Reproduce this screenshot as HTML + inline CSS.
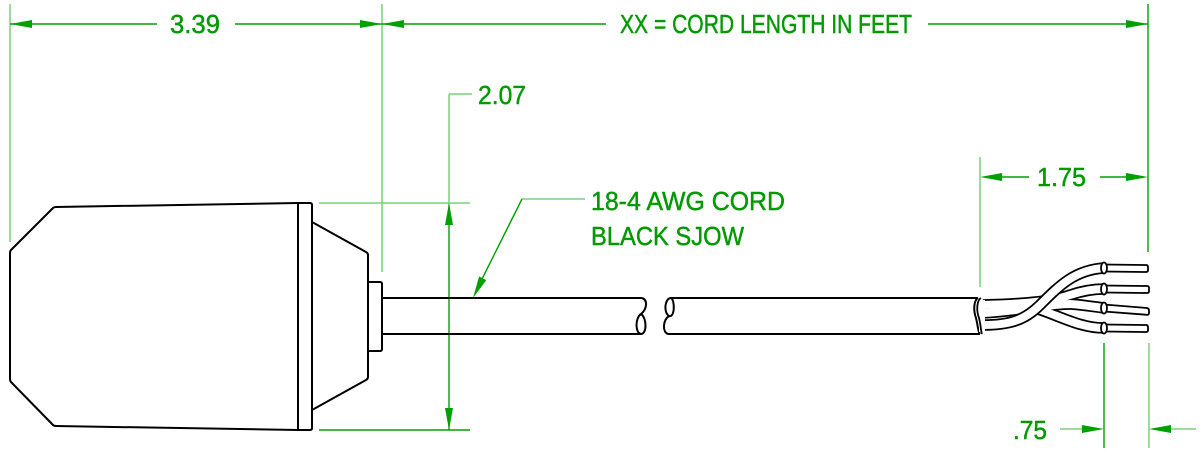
<!DOCTYPE html>
<html><head><meta charset="utf-8"><style>
html,body{margin:0;padding:0;background:#fff;}
svg{display:block;}
text{font-family:"Liberation Sans",sans-serif;font-size:26px;fill:#009a00;stroke:#009a00;stroke-width:0.45px;}
</style></head><body>
<svg width="1200" height="455" viewBox="0 0 1200 455" xmlns="http://www.w3.org/2000/svg">
<g fill="none" stroke-linecap="butt">
<g stroke="#7ccf7c" stroke-width="1.5">
<line x1="10" y1="4" x2="10" y2="242"/>
<line x1="382" y1="4" x2="382" y2="272"/>
<line x1="319" y1="203" x2="470" y2="203"/>
<line x1="980" y1="157" x2="980" y2="287"/>
<line x1="1149" y1="343" x2="1149" y2="448"/>
<line x1="1171" y1="429" x2="1196" y2="429"/>
<line x1="1060" y1="429" x2="1082" y2="429"/>
<line x1="449" y1="94" x2="472" y2="94"/>
<line x1="449" y1="94" x2="449" y2="205"/>
<line x1="522" y1="199" x2="585" y2="199"/>
</g>
<g stroke="#00a000" stroke-width="1.4">
<line x1="10" y1="24" x2="157" y2="24"/>
<line x1="235" y1="24" x2="382" y2="24"/>
<line x1="382" y1="24" x2="606" y2="24"/>
<line x1="928" y1="24" x2="1148" y2="24"/>
<line x1="1148" y1="4" x2="1148" y2="252"/>
<line x1="449" y1="205" x2="449" y2="430"/>
<line x1="319" y1="430" x2="470" y2="430"/>
<line x1="1002" y1="177" x2="1029" y2="177"/>
<line x1="1100" y1="177" x2="1126" y2="177"/>
<line x1="1104" y1="343" x2="1104" y2="448"/>
<line x1="522" y1="199" x2="482" y2="279"/>
</g>
</g>
<g fill="#00a000">
<polygon points="10,24 32,20 32,28"/>
<polygon points="382,24 360,20 360,28"/>
<polygon points="382,24 404,20 404,28"/>
<polygon points="1148,24 1126,20 1126,28"/>
<polygon points="449,203 445,225 453,225"/>
<polygon points="449,430 445,408 453,408"/>
<polygon points="980,177 1002,173 1002,181"/>
<polygon points="1148,177 1126,173 1126,181"/>
<polygon points="1104,429 1082,425 1082,433"/>
<polygon points="1149,429 1171,425 1171,433"/>
<polygon points="473,298 486.3,280.1 479.1,276.5"/>
</g>
<text x="170" y="33" textLength="50" lengthAdjust="spacingAndGlyphs">3.39</text>
<text x="620" y="33" textLength="292" lengthAdjust="spacingAndGlyphs">XX = CORD LENGTH IN FEET</text>
<text x="478" y="104" textLength="48" lengthAdjust="spacingAndGlyphs">2.07</text>
<text x="591" y="210" textLength="194" lengthAdjust="spacingAndGlyphs">18-4 AWG CORD</text>
<text x="591" y="245" textLength="153" lengthAdjust="spacingAndGlyphs">BLACK SJOW</text>
<text x="1037" y="186" textLength="49" lengthAdjust="spacingAndGlyphs">1.75</text>
<text x="1013" y="439" textLength="34" lengthAdjust="spacingAndGlyphs">.75</text>

<g fill="none" stroke="#000" stroke-width="2" stroke-linejoin="round">
<path d="M298 203 L56 207 Q54 207 53 208 L11 250 Q10 251 10 253 L10 379 Q10 381 11 382 L53 425 Q54 426 56 426 L298 430"/>
<path d="M298 203 L310 203 Q312 203 312 205 L312 428 Q312 430 310 430 L298 430 Z"/>
<path d="M312 222 L366 252 Q368 253 368 255 L368 377 Q368 379 366 380 L312 410"/>
<path d="M368 282 L380 282 Q382 282 382 284 L382 349 Q382 351 380 351 L368 351"/>
<path d="M382 298 L642 298"/>
<path d="M382 334 L641 334"/>
<path d="M642 298 C648 300 647 309 641 314 C635 318 635 333 641 334 C647 334 647 318 641 314"/>
<path d="M671 298 L978 298"/>
<path d="M668 334 L980 334"/>
<path d="M671 298 C665 298 663 312 669 316 C675 318 675 300 671 298"/>
<path d="M669 316 C663 320 662 332 668 334"/>
<path d="M978 298 C974 300 973 310 976 318 C978 326 978 332 980 334"/>
</g>
<g fill="none" stroke-linecap="butt">
<g stroke="#000" stroke-width="11.5">
<path d="M983 305 C1020 304 1050 302 1070 295 C1085 290 1095 289 1104 289"/>
<path d="M983 313 C1020 311 1050 304 1070 304 C1085 305 1095 307 1104 308"/>
<path d="M1035 308 C1060 316 1080 328 1104 328"/>
</g>
<g stroke="#fff" stroke-width="8">
<path d="M983 305 C1020 304 1050 302 1070 295 C1085 290 1095 289 1104 289"/>
<path d="M983 313 C1020 311 1050 304 1070 304 C1085 305 1095 307 1104 308"/>
<path d="M1035 308 C1060 316 1080 328 1104 328"/>
</g>
<path d="M983 325 C1010 325 1025 320 1040 305 C1060 285 1075 270 1104 268" stroke="#000" stroke-width="11.5"/>
<path d="M983 325 C1010 325 1025 320 1040 305 C1060 285 1075 270 1104 268" stroke="#fff" stroke-width="8"/>
</g>
<rect x="979" y="300" width="6" height="32" fill="#fff"/>
<path d="M981 298 C977 300 976 310 979 318 C981 326 981 332 982 334" fill="none" stroke="#000" stroke-width="1.8"/>
<g fill="#fff" stroke="#000" stroke-width="1.8">
<path d="M1104 264.5 L1146 265 Q1148 265 1148 267 L1148 270 Q1148 272 1146 272 L1104 271.5"/>
<path d="M1104 285.5 L1147 286 Q1149 286 1149 288 L1149 291 Q1149 293 1147 293 L1104 292.5"/>
<path d="M1104 304.5 L1147 308 Q1149 308.5 1149 310.5 L1149 313 Q1149 315 1147 314.8 L1104 311.5"/>
<path d="M1104 324.5 L1146 325 Q1148 325 1148 327 L1148 330 Q1148 332 1146 332 L1104 331.5"/>
<ellipse cx="1104" cy="268" rx="3" ry="5.5"/>
<ellipse cx="1104" cy="289" rx="3" ry="5.5"/>
<ellipse cx="1104" cy="308" rx="3" ry="5.5"/>
<ellipse cx="1104" cy="328" rx="3" ry="5.5"/>
</g>
</svg>
</body></html>
